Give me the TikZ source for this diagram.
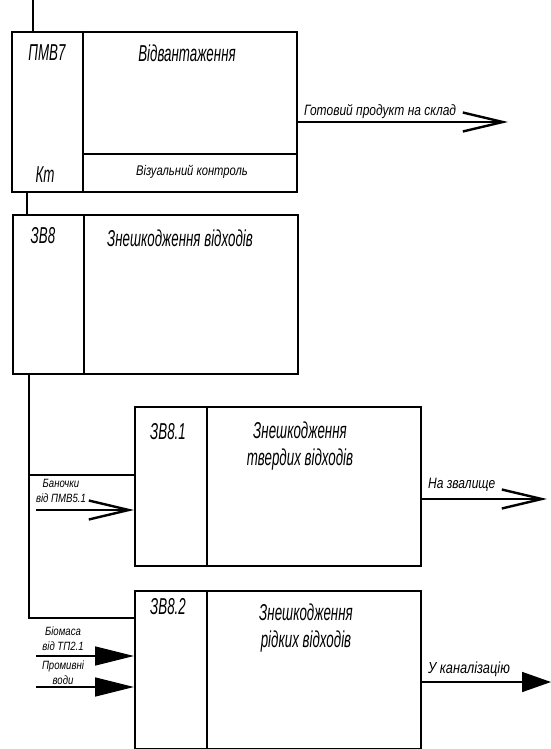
\documentclass[tikz,border=0pt]{standalone}
\usepackage{fontspec}
\setmainfont{Liberation Sans}[FakeStretch=0.58]
\newfontfamily\gostw{Liberation Sans}[FakeStretch=0.8]
\usetikzlibrary{arrows.meta}
\tikzset{
  box/.style={draw, line width=1.6pt, anchor=north west, inner sep=0pt},
  wire/.style={line width=1.6pt},
  openarr/.style={wire, -{Straight Barb[length=40pt,width=19pt,line width=2.4pt]}},
  fillarr/.style={wire, -{Triangle[length=39pt,width=19pt]}},
  lbl/.style={inner sep=0pt, font=\itshape},
  big/.style={lbl, font=\itshape\fontsize{23}{27}\selectfont},
  mid/.style={lbl, font=\gostw\itshape\fontsize{15}{17}\selectfont},
  small/.style={lbl, align=center, font=\gostw\itshape\fontsize{12}{15}\selectfont},
}
\begin{document}
\begin{tikzpicture}[x=1pt,y=-1pt]
\useasboundingbox (0,0) rectangle (551,749);
% boxes
\node[box, minimum width=285pt, minimum height=160pt] (b1) at (11,31) {};
\node[box, minimum width=285pt, minimum height=159pt] (b2) at (12,214) {};
\node[box, minimum width=286pt, minimum height=159pt] (b3) at (134,406) {};
\node[box, minimum width=286pt, minimum height=158pt] (b4) at (134,590) {};
% dividers
\draw[wire] (83,31) -- (83,191);
\draw[wire] (83,154) -- (296,154);
\draw[wire] (84,214) -- (84,373);
\draw[wire] (207,406) -- (207,565);
\draw[wire] (207,590) -- (207,748);
% vertical flow
\coordinate (top) at (33,0);
\draw[wire] (top) -- (top |- b1.north);
\draw[wire] (b1.south -| 27,0) -- (b2.north -| 27,0);
\coordinate (j1) at (29,475);
\coordinate (j2) at (29,618);
\draw[wire] (b2.south -| 29,0) -- (j2) -- (j2 -| b4.west);
\draw[wire] (j1) -- (j1 -| b3.west);
% outputs
\coordinate (o1) at (508,122);
\draw[openarr] (o1 -| b1.east) -- (o1);
\coordinate (o2) at (547,499);
\draw[openarr] (o2 -| b3.east) -- (o2);
\coordinate (o3) at (551,682);
\draw[wire, -{Triangle[length=29pt,width=20pt]}] (o3 -| b4.east) -- (o3);
% inputs
\coordinate (i1) at (36,510);
\draw[openarr] (i1) -- (i1 -| b3.west);
\coordinate (i2) at (36,656);
\draw[fillarr] (i2) -- (i2 -| b4.west);
\coordinate (i3) at (36,687);
\draw[fillarr] (i3) -- (i3 -| b4.west);
% texts
\node[big] (t1) at (47,53) {ПМВ7};
\node[big] (t2) at (187,53) {Відвантаження};
\node[big] (t3) at (45,175) {Кт};
\node[mid, font=\gostw\itshape\fontsize{14}{16}\selectfont] (t4) at (192,172) {Візуальний контроль};
\node[mid, anchor=west] (t5) at (304,112) {Готовий продукт на склад};
\node[big] (t6) at (43,236) {ЗВ8};
\node[big] (t7) at (180,238) {Знешкодження відходів};
\node[big] (t8) at (168,432) {ЗВ8.1};
\node[big, align=center] (t9) at (300,446) {Знешкодження\\твердих відходів};
\node[small] (t10) at (61,491) {Баночки\\від ПМВ5.1};
\node[mid, anchor=west] (t11) at (428,485) {На звалище};
\node[big] (t12) at (168,607) {ЗВ8.2};
\node[big, align=center] (t13) at (306,628) {Знешкодження\\рідких відходів};
\node[small] (t14) at (63,639) {Біомаса\\від ТП2.1};
\node[small] (t15) at (63,673) {Промивні\\води};
\node[mid, font=\gostw\itshape\fontsize{16}{18}\selectfont, anchor=west] (t16) at (428,669) {У каналізацію};
\end{tikzpicture}
\end{document}
